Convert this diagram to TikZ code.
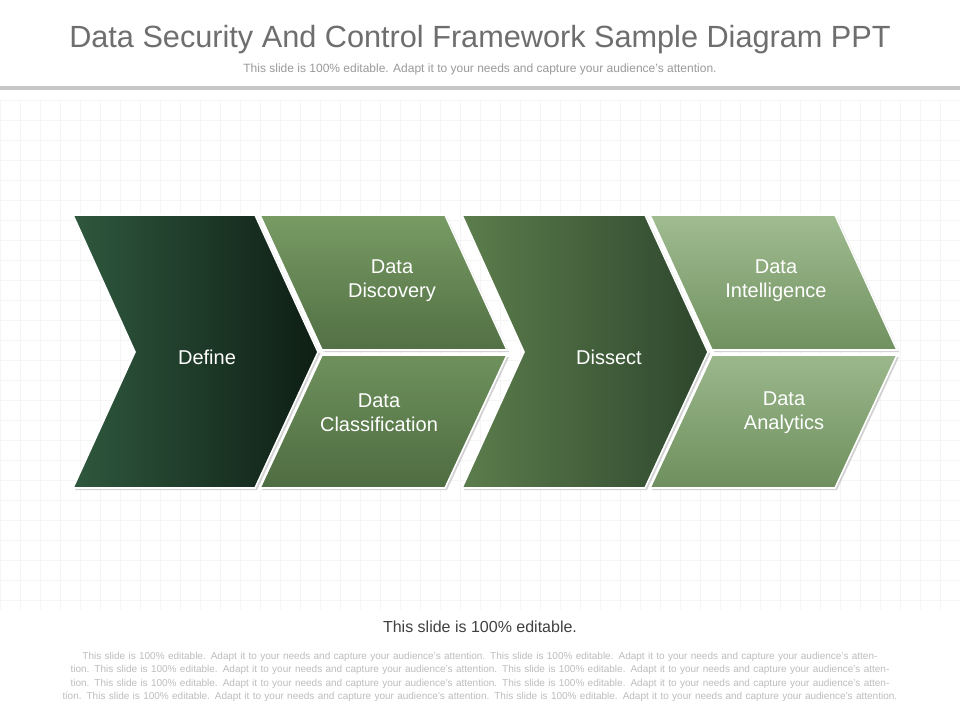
\documentclass[tikz,border=0pt]{standalone}
\usepackage{fontspec}
\setmainfont{Liberation Sans}
\usetikzlibrary{shadows}
\definecolor{tgray}{HTML}{6E6E6E}
\definecolor{sgray}{HTML}{9A9A9A}
\definecolor{pgray}{HTML}{BDBDBD}
\tikzset{
  px/.style={x=0.75pt,y=-0.75pt},
  seg/.style={draw=white,line width=1.2pt,drop shadow={shadow xshift=1.5pt,shadow yshift=-1.5pt,fill=black!35,opacity=.5}},
  lbl/.style={text=white,font=\fontsize{15}{18}\selectfont,align=center},
}
\begin{document}
\begin{tikzpicture}[px]
\useasboundingbox (0,0) rectangle (960,720);
\fill[white] (0,0) rectangle (960,720);
\foreach \i in {0,20,...,960} \draw[black!4] (\i,100) -- (\i,610);
\foreach \j in {100,120,...,600} \draw[black!4] (0,\j) -- (960,\j);
\node[text=tgray,font=\fontsize{23}{27}\selectfont] (title) at (480,40) {Data Security And Control Framework Sample Diagram PPT};
\node[text=sgray,font=\fontsize{9}{11}\selectfont] (sub) at (480,69) {This slide is 100\% editable. Adapt it to your needs and capture your audience's attention.};
\fill[black!22] (0,86) rectangle (960,90);
% shapes
\path[seg,left color={rgb,255:red,47;green,88;blue,62},right color={rgb,255:red,14;green,30;blue,20}] (73,215) -- (255,215) -- (318,352) -- (255,488) -- (73,488) -- (135,352) -- cycle;
\path[seg,top color={rgb,255:red,120;green,155;blue,100},bottom color={rgb,255:red,82;green,112;blue,68}] (260,215) -- (445,215) -- (507,350) -- (322,350) -- cycle;
\path[seg,top color={rgb,255:red,110;green,145;blue,92},bottom color={rgb,255:red,78;green,108;blue,65}] (322,355) -- (507,355) -- (445,488) -- (260,488) -- cycle;
\path[seg,left color={rgb,255:red,92;green,125;blue,76},right color={rgb,255:red,45;green,70;blue,45}] (462,215) -- (645,215) -- (708,352) -- (645,488) -- (462,488) -- (524,352) -- cycle;
\path[seg,top color={rgb,255:red,160;green,188;blue,145},bottom color={rgb,255:red,112;green,145;blue,95}] (650,215) -- (835,215) -- (897,350) -- (712,350) -- cycle;
\path[seg,top color={rgb,255:red,155;green,184;blue,140},bottom color={rgb,255:red,110;green,143;blue,93}] (712,355) -- (897,355) -- (835,488) -- (650,488) -- cycle;
\node[lbl] (define) at (207,357) {Define};
\node[lbl] (disc) at (392,281) {Data\\Discovery};
\node[lbl] (class) at (379,413) {Data\\Classification};
\node[lbl] (dissect) at (609,357) {Dissect};
\node[lbl] (intel) at (776,281) {Data\\Intelligence};
\node[lbl] (anal) at (784,413) {Data\\Analytics};
\node[text=black!75,font=\fontsize{12}{14}\selectfont] (foot) at (480,627) {This slide is 100\% editable.};
\node[text=pgray,font=\fontsize{7.5}{10}\selectfont,align=center,text width=680pt] (para) at (480,677) {This slide is 100\% editable. Adapt it to your needs and capture your audience's attention. This slide is 100\% editable. Adapt it to your needs and capture your audience's attention. This slide is 100\% editable. Adapt it to your needs and capture your audience's attention. This slide is 100\% editable. Adapt it to your needs and capture your audience's attention. This slide is 100\% editable. Adapt it to your needs and capture your audience's attention. This slide is 100\% editable. Adapt it to your needs and capture your audience's attention. This slide is 100\% editable. Adapt it to your needs and capture your audience's attention. This slide is 100\% editable. Adapt it to your needs and capture your audience's attention.};
\end{tikzpicture}
\end{document}
